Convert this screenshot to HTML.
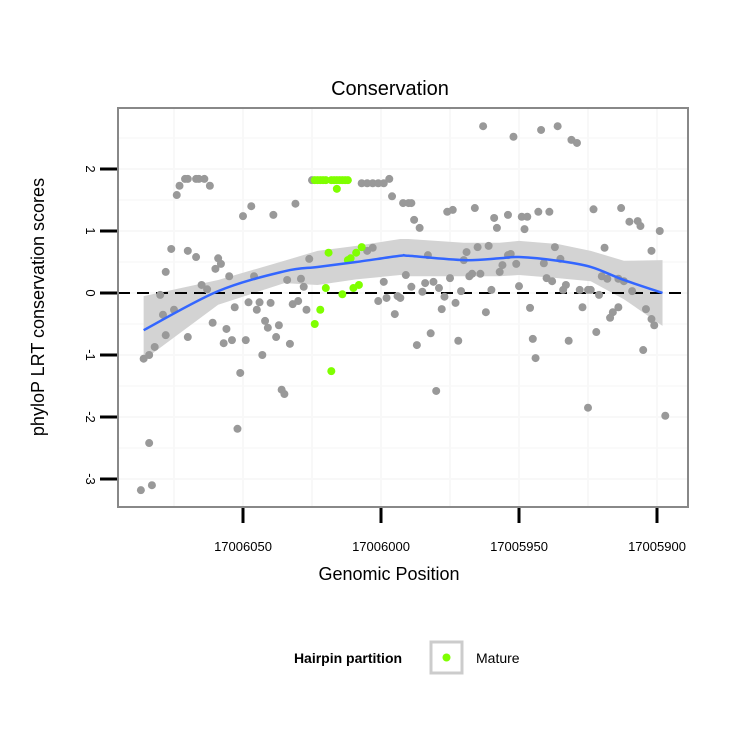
<!DOCTYPE html>
<html><head><meta charset="utf-8"><style>
body{margin:0;background:#fff;}
svg text{font-family:"Liberation Sans",Arial,sans-serif;}
</style></head><body>
<svg id="chart" width="750" height="750" viewBox="0 0 750 750" xmlns="http://www.w3.org/2000/svg">
<rect x="0" y="0" width="750" height="750" fill="#fff"/>
<text x="390" y="95" font-size="20" text-anchor="middle" fill="#000">Conservation</text>
<g id="grid"></g>
<g id="band"></g>
<line x1="118" y1="293" x2="688" y2="293" stroke="#000" stroke-width="2" stroke-dasharray="12,7"/>
<g id="points"></g>
<g id="smooth"></g>
<rect x="118" y="108" width="570" height="399" fill="none" stroke="#888" stroke-width="2"/>
<g id="axes"></g>
<text transform="translate(44,307) rotate(-90)" font-size="18" text-anchor="middle">phyloP LRT conservation scores</text>
<text x="389" y="580" font-size="18" text-anchor="middle">Genomic Position</text>
<g>
<text x="348" y="663" font-size="14" font-weight="bold" text-anchor="middle">Hairpin partition</text>
<rect x="431" y="642" width="31" height="31" fill="#fff" stroke="#ccc" stroke-width="3"/>
<circle cx="446.5" cy="657.5" r="4" fill="#7fff00"/>
<text x="476" y="663" font-size="14">Mature</text>
</g>
</svg>
<script>
const greyPos=[17006087,17006083,17006084,17006086,17006084,17006082,17006078,17006080,17006079,17006075,17006078,17006076,17006074,17006073,17006071,17006070,17006067,17006066,17006064,17006062,17006070,17006067,17006070,17006065,17006063,17006059,17006058,17006060,17006061,17006056,17006057,17006054,17006053,17006055,17006050,17006047,17006049,17006051,17006052,17006048,17006045,17006044,17006046,17006042,17006041,17006043,17006040,17006038,17006037,17006039,17006036,17006035,17006033,17006034,17006032,17006030,17006029,17006028,17006027,17006031,17006026,17006025,17006007,17006005,17006003,17006001,17005999,17005997,17005996,17005992,17005990,17005989,17005988,17005986,17005976,17005974,17005966,17005959,17005958,17005963,17006005,17006003,17005999,17006001,17005998,17005995,17005994,17005993,17005991,17005989,17005985,17005984,17005981,17005979,17005983,17005977,17005978,17005973,17005975,17005971,17005969,17005970,17005968,17005967,17005964,17005965,17005961,17005960,17005962,17005982,17005987,17005972,17005980,17005952,17005942,17005936,17005931,17005929,17005954,17005949,17005947,17005943,17005939,17005948,17005923,17005913,17005910,17005907,17005906,17005899,17005902,17005919,17005937,17005935,17005954,17005953,17005951,17005941,17005956,17005957,17005940,17005938,17005933,17005934,17005950,17005928,17005925,17005924,17005921,17005920,17005918,17005914,17005912,17005909,17005946,17005927,17005914,17005916,17005917,17005904,17005902,17005901,17005945,17005944,17005932,17005922,17005905,17005925,17005897];
const greyScore=[-3.18,-3.10,-2.42,-1.06,-1.00,-0.87,-0.68,-0.03,-0.35,-0.27,0.34,0.71,1.58,1.73,1.84,1.84,1.84,1.84,1.84,1.73,0.68,0.58,-0.71,0.13,0.06,0.56,0.47,0.39,-0.48,-0.58,-0.81,-0.76,-0.23,0.27,1.24,1.40,-0.76,-1.29,-2.19,-0.15,-0.27,-0.15,0.27,-0.45,-0.56,-1.00,-0.16,-0.71,-0.52,1.26,-1.56,-1.63,-0.82,0.21,-0.18,-0.13,0.23,0.10,-0.27,1.44,0.55,1.82,1.77,1.77,1.77,1.77,1.77,1.84,1.56,1.45,1.45,1.45,1.18,1.05,1.31,1.34,1.37,1.21,1.05,2.69,0.68,0.73,0.18,-0.13,-0.08,-0.34,-0.05,-0.08,0.29,0.10,0.02,0.16,0.18,0.08,0.61,-0.06,-0.26,-0.16,0.24,0.03,0.66,0.53,0.27,0.31,0.31,0.74,0.76,0.05,-0.31,-0.65,-0.84,-0.77,-1.58,2.52,2.63,2.69,2.47,2.42,1.26,1.23,1.23,1.31,1.31,1.03,1.35,1.37,1.15,1.16,1.08,1.00,0.68,0.73,0.74,0.55,0.61,0.63,0.47,0.48,0.45,0.34,0.24,0.19,0.13,0.05,0.11,0.05,0.05,0.05,-0.03,0.27,0.23,0.23,0.19,0.03,-0.24,-0.23,-0.23,-0.31,-0.40,-0.26,-0.42,-0.52,-0.74,-1.05,-0.77,-0.63,-0.92,-1.85,-1.98];
const maturePos=[17006024,17006023,17006022,17006021,17006020,17006018,17006017,17006016,17006015,17006014,17006013,17006012,17006016,17006019,17006012,17006011,17006009,17006007,17006020,17006014,17006010,17006008,17006022,17006024,17006018];
const matureScore=[1.82,1.82,1.82,1.82,1.82,1.82,1.82,1.82,1.82,1.82,1.82,1.82,1.68,0.65,0.53,0.56,0.65,0.74,0.08,-0.02,0.08,0.13,-0.27,-0.50,-1.26];
const fitPos=[17006086,17006059,17006035,17006023,17006009,17005993,17005990,17005970,17005957,17005950,17005936,17005924,17005912,17005898];
const fitVal=[-0.60,0.03,0.35,0.42,0.50,0.60,0.60,0.53,0.56,0.58,0.52,0.42,0.21,0.00];
const fitLo=[-1.08,-0.19,0.16,0.13,0.22,0.29,0.27,0.27,0.27,0.29,0.24,0.19,-0.10,-0.53];
const fitHi=[-0.05,0.21,0.52,0.68,0.76,0.87,0.87,0.81,0.81,0.84,0.79,0.68,0.52,0.53];
const xTicks=[17006050,17006000,17005950,17005900];
const yTicks=[-3,-2,-1,0,1,2];

const NS="http://www.w3.org/2000/svg";
function X(p){return 243+(17006050-p)*2.76;}
function Y(s){return 293-s*62;}
function mk(t,a,parent){const e=document.createElementNS(NS,t);for(const k in a)e.setAttribute(k,a[k]);document.getElementById(parent).appendChild(e);return e;}

for(let s=-3;s<=2.5;s+=0.5){const l=mk('line',{x1:119,x2:687,y1:Y(s),y2:Y(s),stroke:'#f8f8f8','stroke-width':s%1===0?2:1.5},'grid');

}
for(let p=17006075;p>=17005900;p-=25){const l=mk('line',{x1:X(p),x2:X(p),y1:109,y2:506,stroke:'#f8f8f8','stroke-width':2},'grid');

}

let d='M'+fitPos.map((p,i)=>X(p)+','+Y(fitHi[i])).join(' L');
for(let i=fitPos.length-1;i>=0;i--)d+=' L'+X(fitPos[i])+','+Y(fitLo[i]);
const b=mk('path',{d:d+'Z',fill:'#d3d3d3'},'band');



greyPos.forEach((p,i)=>{const c=mk('circle',{cx:X(p),cy:Y(greyScore[i]),r:4,fill:'#999'},'points');

});
maturePos.forEach((p,i)=>{const c=mk('circle',{cx:X(p),cy:Y(matureScore[i]),r:4,fill:'#7fff00'},'points');

});

const pts=fitPos.map((p,i)=>[X(p),Y(fitVal[i])]);
let sd='M'+pts[0][0]+','+pts[0][1];
for(let i=0;i<pts.length-1;i++){const p0=pts[Math.max(0,i-1)],p1=pts[i],p2=pts[i+1],p3=pts[Math.min(pts.length-1,i+2)];
sd+=' C'+(p1[0]+(p2[0]-p0[0])/6)+','+(p1[1]+(p2[1]-p0[1])/6)+' '+(p2[0]-(p3[0]-p1[0])/6)+','+(p2[1]-(p3[1]-p1[1])/6)+' '+p2[0]+','+p2[1];}
const sl=mk('path',{d:sd,fill:'none',stroke:'#3366ff','stroke-width':2.5},'smooth');



xTicks.forEach(t=>{const l=mk('line',{x1:X(t),x2:X(t),y1:508,y2:523,stroke:'#000','stroke-width':3},'axes');


const tx=mk('text',{x:X(t),y:551,'font-size':13,'text-anchor':'middle'},'axes');tx.textContent=t;

});
yTicks.forEach(t=>{const l=mk('line',{x1:100,x2:117,y1:Y(t),y2:Y(t),stroke:'#000','stroke-width':3},'axes');


const tx=mk('text',{transform:'translate(86,'+Y(t)+') rotate(90)','font-size':13,'text-anchor':'middle'},'axes');tx.textContent=t;

});
</script>
</body></html>
